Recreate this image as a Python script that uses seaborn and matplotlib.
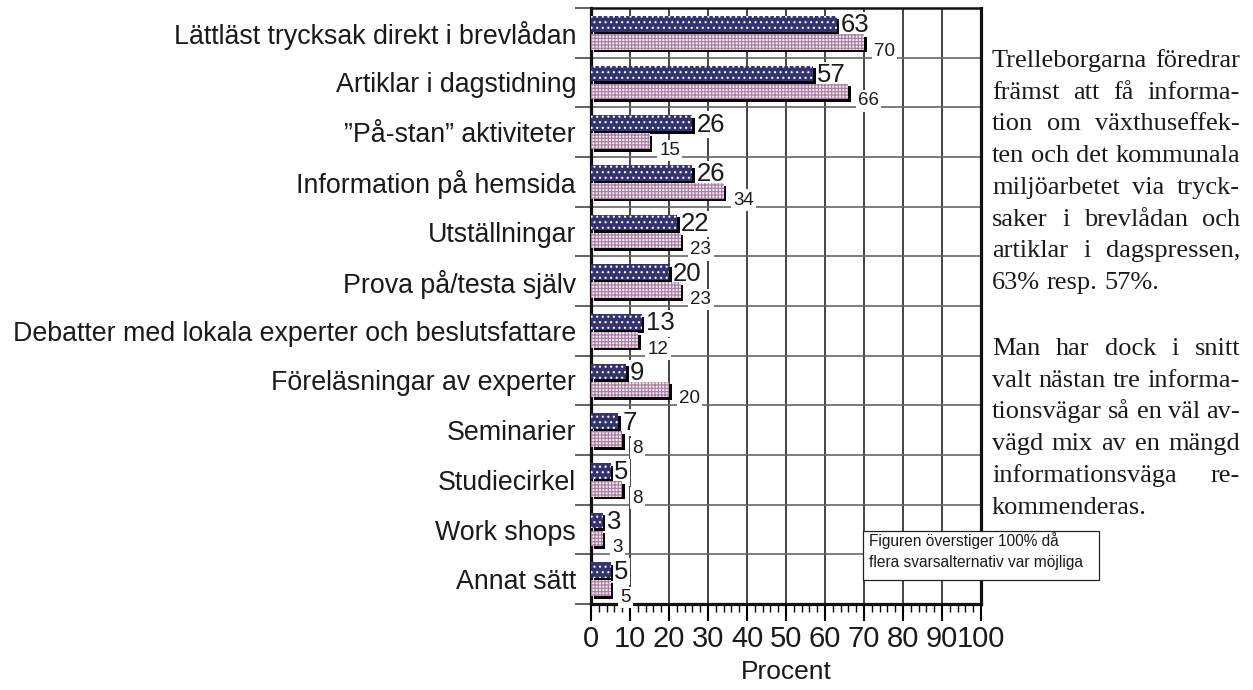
import numpy as np
import pandas as pd
import seaborn as sns
import matplotlib
matplotlib.use("Agg")
import matplotlib.pyplot as plt
import matplotlib.patheffects as pe
from matplotlib.ticker import MultipleLocator, FixedLocator
from matplotlib.transforms import IdentityTransform
from matplotlib.patches import Rectangle

# ---------------- data ----------------
categories = [
    "Lättläst trycksak direkt i brevlådan",
    "Artiklar i dagstidning",
    "\u201dPå-stan\u201d aktiviteter",
    "Information på hemsida",
    "Utställningar",
    "Prova på/testa själv",
    "Debatter med lokala experter och beslutsfattare",
    "Föreläsningar av experter",
    "Seminarier",
    "Studiecirkel",
    "Work shops",
    "Annat sätt",
]
series_names = ["Trelleborg", "Jämförelse"]
dark_values = [63, 57, 26, 26, 22, 20, 13, 9, 7, 5, 3, 5]
light_values = [70, 66, 15, 34, 23, 23, 12, 20, 8, 8, 3, 5]
x_ticks = list(range(0, 101, 10))
x_label = "Procent"
note_lines = ["Figuren överstiger 100% då", "flera svarsalternativ var möjliga"]
para1 = [
    "Trelleborgarna föredrar",
    "främst att få informa-",
    "tion om växthuseffek-",
    "ten och det kommunala",
    "miljöarbetet via tryck-",
    "saker i brevlådan och",
    "artiklar i dagspressen,",
    "63% resp. 57%.",
]
para2 = [
    "Man har dock i snitt",
    "valt nästan tre informa-",
    "tionsvägar så en väl av-",
    "vägd mix av en mängd",
    "informationsväga re-",
    "kommenderas.",
]

# ---------------- style ----------------
W, H = 1253, 690
sns.set_theme(style="white")
plt.rcParams["font.family"] = ["Liberation Sans", "DejaVu Sans"]
plt.rcParams["hatch.linewidth"] = 0.8

dark_color = "#33336f"
light_color = "#f5e9f2"

fig = plt.figure(figsize=(W / 100, H / 100), dpi=100)
ax = fig.add_axes([591 / W, 1 - 604 / H, 390 / W, 596 / H])

df = pd.DataFrame({
    "Kategori": categories * 2,
    "Procent": dark_values + light_values,
    "Serie": [series_names[0]] * len(categories) + [series_names[1]] * len(categories),
})

sns.barplot(data=df, y="Kategori", x="Procent", hue="Serie", orient="h",
            palette=[dark_color, light_color], saturation=1,
            width=0.72, gap=0.12, legend=False, ax=ax, zorder=3)

shadow = pe.SimplePatchShadow(offset=(2, -2), shadow_rgbFace="black", alpha=1, hatch=None)
for bar in ax.containers[0]:
    bar.set_hatch("...")
    bar.set_edgecolor("white")
    bar.set_linewidth(0)
    bar.set_path_effects([shadow, pe.Normal()])
for bar in ax.containers[1]:
    bar.set_hatch("+++++")
    bar.set_edgecolor("#a87aa0")
    bar.set_linewidth(0)
    bar.set_path_effects([shadow, pe.Normal()])

n = len(categories)
ax.set_xlim(0, 100)
ax.set_ylim(n - 0.5, -0.5)

# y axis: labels at centres, tick marks at row boundaries
ax.set_yticks(range(n), labels=categories)
ax.yaxis.set_minor_locator(FixedLocator(np.arange(-0.5, n, 1)))
ax.tick_params(axis="y", which="major", length=0, pad=10.8, labelsize=19.3, labelcolor="#1a1a1a")
ax.tick_params(axis="y", which="minor", length=11.5, width=1.3, color="#555555", direction="out", left=True)
ax.set_ylabel("")

# x axis
ax.set_xticks(x_ticks)
ax.xaxis.set_minor_locator(MultipleLocator(2))
ax.tick_params(axis="x", which="major", length=12, width=1.5, color="black", direction="out",
               pad=3, labelsize=21, labelcolor="#1a1a1a", bottom=True)
ax.tick_params(axis="x", which="minor", length=6, width=1.0, color="black", direction="out", bottom=True)
ax.set_xlabel(x_label, fontsize=19, labelpad=5, color="#1a1a1a")

ax.grid(True, axis="x", which="major", color="#111111", linewidth=1.1, zorder=0)
ax.grid(True, axis="y", which="minor", color="#666666", linewidth=1.2, zorder=0)
ax.grid(False, axis="y", which="major")
ax.set_axisbelow(True)

for side in ["left", "bottom", "right"]:
    ax.spines[side].set_linewidth(2.3)
    ax.spines[side].set_color("#111111")
ax.spines["top"].set_linewidth(1.8)
ax.spines["top"].set_color("#111111")

# value labels (white backing hides grid lines but stays under the bars)
for i, (d, l) in enumerate(zip(dark_values, light_values)):
    ax.text(d + 1.0, i - 0.15, str(d), fontsize=18.5, va="center", ha="left", color="#1a1a1a",
            zorder=2.9, bbox=dict(boxstyle="square,pad=0.05", fc="white", ec="none"))
    ax.text(l + 2.5, i + 0.37, str(l), fontsize=13.5, va="center", ha="left", color="#1a1a1a",
            zorder=2.8, bbox=dict(boxstyle="square,pad=0.12", fc="white", ec="none"))

# note box
fig.patches.append(Rectangle((863, H - 580), 236, 49, transform=IdentityTransform(),
                             fc="white", ec="#222222", lw=0.9, zorder=4))
for k, line in enumerate(note_lines):
    fig.text(869, H - (546 + k * 21), line, transform=IdentityTransform(),
             fontsize=11.2, ha="left", va="baseline", color="#1a1a1a", zorder=5)

# justified serif paragraphs
renderer = fig.canvas.get_renderer()
serif = ["Liberation Serif", "DejaVu Serif"]


def justified(lines, y_first, x0, x1, spacing, size):
    for k, line in enumerate(lines):
        yb = H - (y_first + k * spacing)
        words = line.split()
        texts = [fig.text(0, yb, w, transform=IdentityTransform(), fontsize=size,
                          family=serif, va="baseline", ha="left", color="#1a1a1a") for w in words]
        widths = [t.get_window_extent(renderer).width for t in texts]
        last = k == len(lines) - 1
        if last or len(words) == 1:
            space = size * 100 / 72 * 0.25
        else:
            space = (x1 - x0 - sum(widths)) / (len(words) - 1)
        x = x0
        for t, w in zip(texts, widths):
            t.set_position((x, yb))
            x += w + space


justified(para1, 67, 992, 1240, 31.7, 19)
justified(para2, 355, 992, 1240, 31.7, 19)

fig.savefig("out.png", dpi=100)
